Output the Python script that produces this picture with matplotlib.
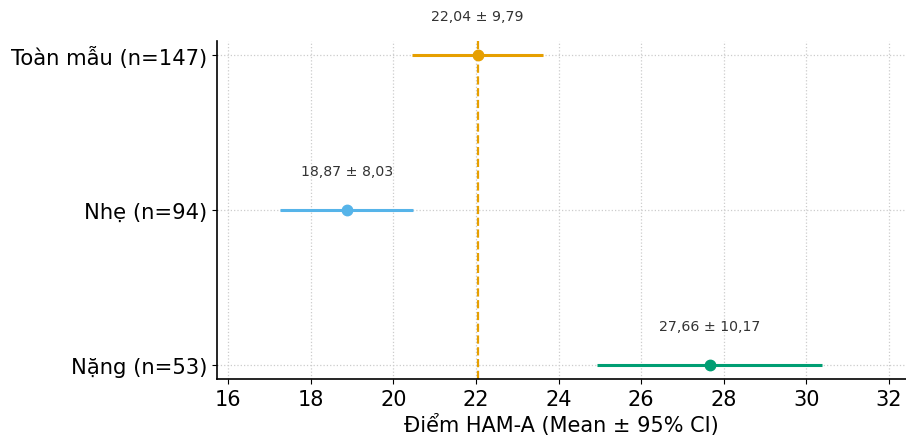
import matplotlib
matplotlib.use('Agg')
import matplotlib.pyplot as plt

# du lieu doc tu hinh
nhom = ['Toàn mẫu (n=147)', 'Nhẹ (n=94)', 'Nặng (n=53)']
trung_binh = [22.04, 18.87, 27.66]
do_lech = [9.79, 8.03, 10.17]
ci_thap = [20.46, 17.26, 24.93]
ci_cao = [23.62, 20.48, 30.38]
mau = ['#E69F00', '#56B4E9', '#009E73']

fig = plt.figure(figsize=(9.06, 4.39), dpi=100)
ax = fig.add_axes([0.2395, 0.134, 0.76, 0.77])

for i in range(len(nhom)):
    ax.plot([ci_thap[i], ci_cao[i]], [i, i], color=mau[i], lw=2.2, solid_capstyle='butt', zorder=3)
    ax.plot(trung_binh[i], i, 'o', color=mau[i], ms=7.5, zorder=4)
    nhan = ('%.2f ± %.2f' % (trung_binh[i], do_lech[i])).replace('.', ',')  # dau phay thap phan
    ax.text(trung_binh[i], i - 0.25, nhan, ha='center', va='center', fontsize=10.2, color='#333333')

ax.axvline(trung_binh[0], color=mau[0], ls='--', lw=1.6, zorder=2)

ax.set_yticks(range(len(nhom)))
ax.set_yticklabels(nhom, fontsize=15.2)
ax.set_ylim(2.09, -0.09)
ax.set_xlim(15.73, 32.4)
ax.set_xticks(range(16, 33, 2))
ax.tick_params(axis='x', labelsize=15)
ax.set_xlabel('Điểm HAM-A (Mean ± 95% CI)', fontsize=15, labelpad=3)
ax.grid(True, ls=':', color='#cccccc', lw=0.9)
ax.set_axisbelow(True)
ax.spines['top'].set_visible(False)
ax.spines['right'].set_visible(False)
ax.spines['left'].set_linewidth(1.2)
ax.spines['bottom'].set_linewidth(1.2)

plt.savefig('out.png', dpi=100)
